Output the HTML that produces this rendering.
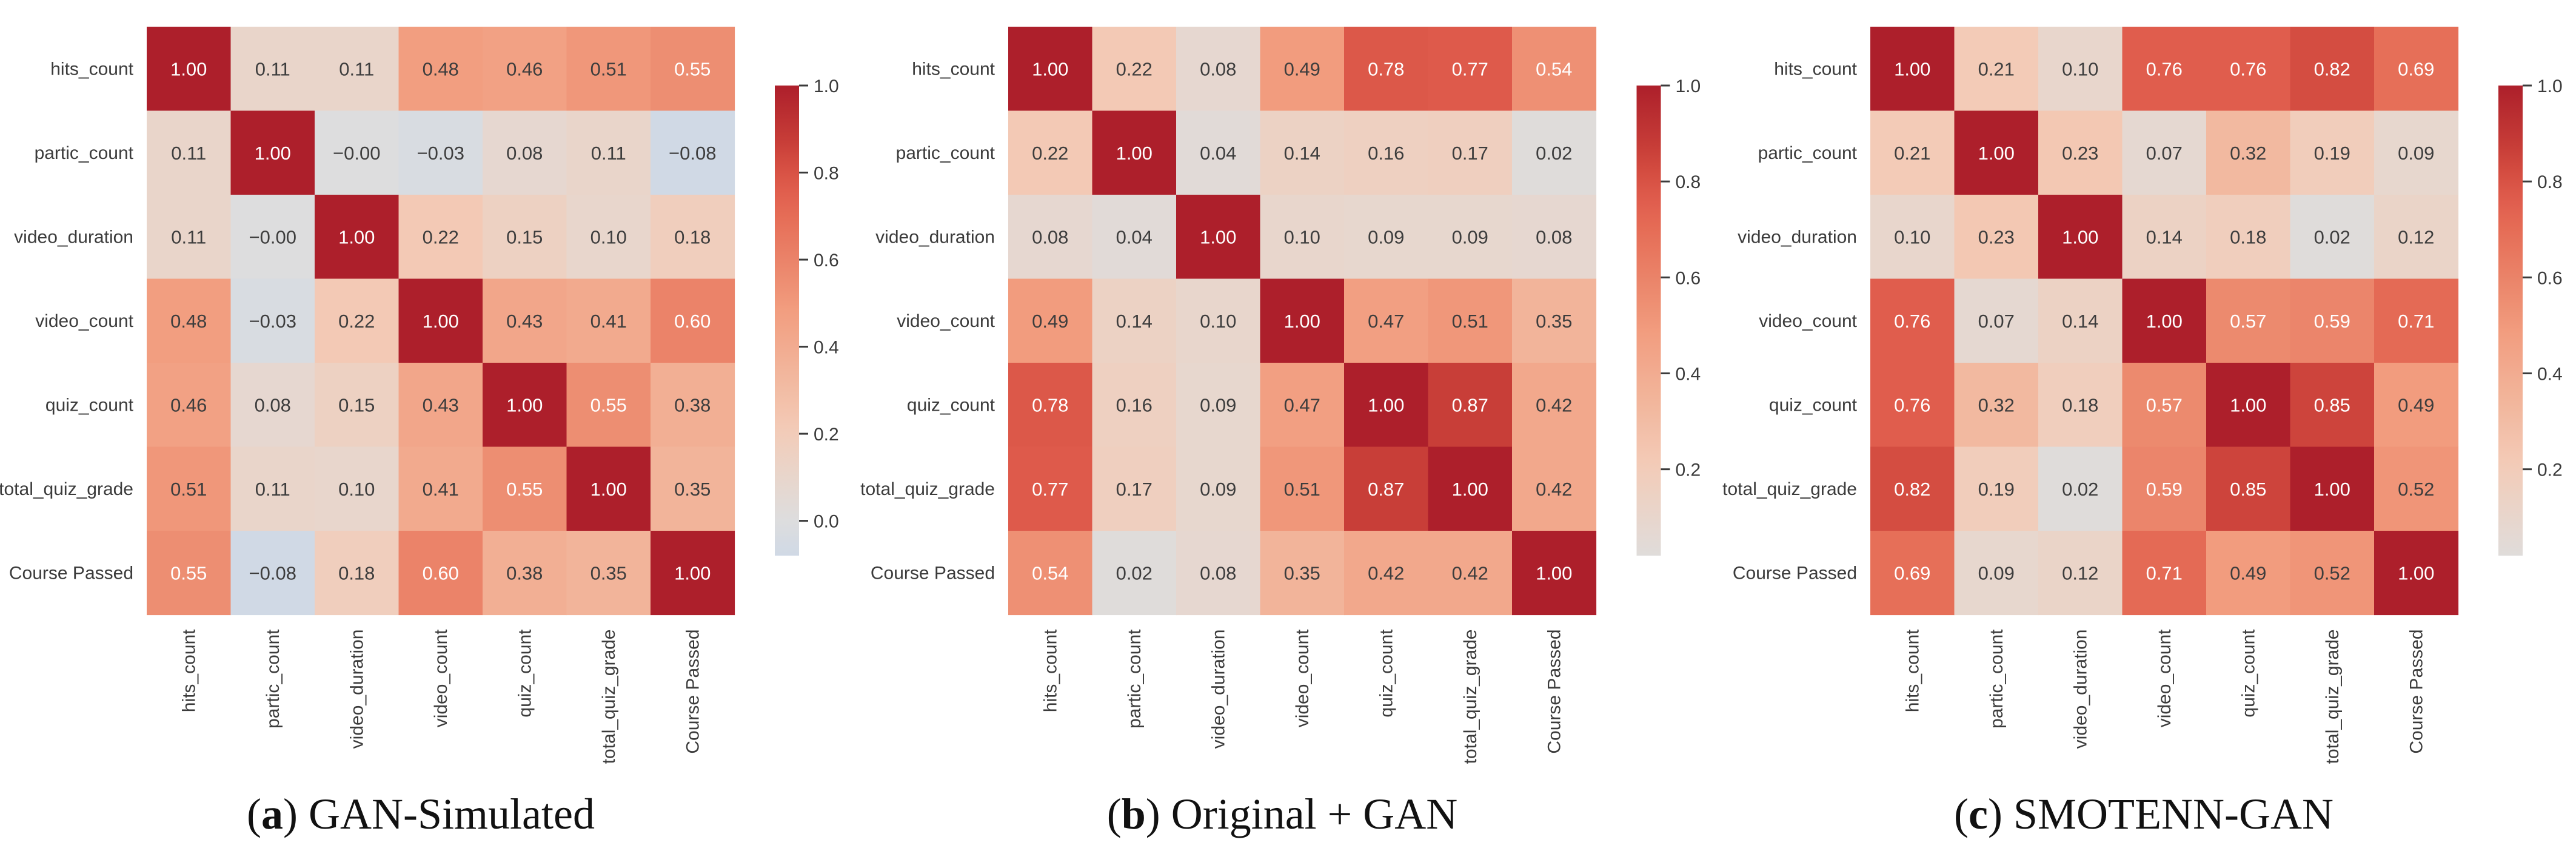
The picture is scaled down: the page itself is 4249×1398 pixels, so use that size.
<!DOCTYPE html>
<html><head><meta charset="utf-8">
<style>
html,body{margin:0;padding:0;background:#fff;}
svg{display:block;}
.cap{font-family:"Liberation Serif",serif;font-size:72px;fill:#111;}
</style></head>
<body>
<svg id="fig" width="4249" height="1398" viewBox="0 0 4249 1398" xmlns="http://www.w3.org/2000/svg"></svg>
<script>
const labels = ["hits_count","partic_count","video_duration","video_count","quiz_count","total_quiz_grade","Course Passed"];
const dataA = [
 [1.00,0.11,0.11,0.48,0.46,0.51,0.55],
 [0.11,1.00,-0.00,-0.03,0.08,0.11,-0.08],
 [0.11,-0.00,1.00,0.22,0.15,0.10,0.18],
 [0.48,-0.03,0.22,1.00,0.43,0.41,0.60],
 [0.46,0.08,0.15,0.43,1.00,0.55,0.38],
 [0.51,0.11,0.10,0.41,0.55,1.00,0.35],
 [0.55,-0.08,0.18,0.60,0.38,0.35,1.00]];
const dataB = [
 [1.00,0.22,0.08,0.49,0.78,0.77,0.54],
 [0.22,1.00,0.04,0.14,0.16,0.17,0.02],
 [0.08,0.04,1.00,0.10,0.09,0.09,0.08],
 [0.49,0.14,0.10,1.00,0.47,0.51,0.35],
 [0.78,0.16,0.09,0.47,1.00,0.87,0.42],
 [0.77,0.17,0.09,0.51,0.87,1.00,0.42],
 [0.54,0.02,0.08,0.35,0.42,0.42,1.00]];
const dataC = [
 [1.00,0.21,0.10,0.76,0.76,0.82,0.69],
 [0.21,1.00,0.23,0.07,0.32,0.19,0.09],
 [0.10,0.23,1.00,0.14,0.18,0.02,0.12],
 [0.76,0.07,0.14,1.00,0.57,0.59,0.71],
 [0.76,0.32,0.18,0.57,1.00,0.85,0.49],
 [0.82,0.19,0.02,0.59,0.85,1.00,0.52],
 [0.69,0.09,0.12,0.71,0.49,0.52,1.00]];
const ticksA = [0.0,0.2,0.4,0.6,0.8,1.0];
const ticksBC = [0.2,0.4,0.6,0.8,1.0];
const captionLetters = ["a","b","c"];
const captionTitles = ["GAN-Simulated","Original + GAN","SMOTENN-GAN"];

const cmStops = [
 [-1.0,[59,76,192]],[-0.08,[208,217,229]],[0.0,[221,221,222]],[0.10,[232,214,204]],
 [0.21,[243,203,183]],[0.35,[242,180,154]],[0.49,[242,156,126]],[0.55,[237,142,114]],
 [0.69,[230,111,88]],[0.76,[224,93,77]],[0.82,[212,77,65]],[0.87,[200,62,56]],[1.0,[173,31,43]]];
function cmap(v){
  if(v<=cmStops[0][0]) return cmStops[0][1];
  for(let i=1;i<cmStops.length;i++){
    if(v<=cmStops[i][0]){
      const [a,ca]=cmStops[i-1],[b,cb]=cmStops[i];
      const t=(v-a)/(b-a);
      return ca.map((c,k)=>Math.round(c+(cb[k]-c)*t));
    }
  }
  return cmStops[cmStops.length-1][1];
}
const rgb=c=>`rgb(${c[0]},${c[1]},${c[2]})`;
const NS="http://www.w3.org/2000/svg";
const svg=document.getElementById('fig');
function mk(tag,attrs,parent){const e=document.createElementNS(NS,tag);for(const k in attrs)e.setAttribute(k,attrs[k]);(parent||svg).appendChild(e);return e;}
function fmt(v){const s=Math.abs(v).toFixed(2);return ((v<0||Object.is(v,-0))?"\u2212":"")+s;}
function fmt1(v){return v.toFixed(1);}

const CELL=138.5, TOP=44, CB_TOP=141, CB_BOT=916, CB_W=40;
const panels=[
 {data:dataA,left:242,cbx:1278,ticks:ticksA,cx:694},
 {data:dataB,left:1663,cbx:2699.5,ticks:ticksBC,cx:2115},
 {data:dataC,left:3085,cbx:4121,ticks:ticksBC,cx:3536}];

panels.forEach((p,pi)=>{
  const g=mk('g',{});
  
  
  const flat=p.data.flat();
  const vmin=Math.min(...flat), vmax=Math.max(...flat);
  const xs=j=>p.left+j*CELL, ys=i=>TOP+i*CELL;
  p.data.forEach((row,i)=>row.forEach((v,j)=>{
    const r=mk('rect',{x:xs(j),y:ys(i),width:CELL+0.6,height:CELL+0.6,fill:rgb(cmap(v))},g);
    
    
    const t=mk('text',{x:xs(j)+CELL/2,y:ys(i)+CELL/2+11,'text-anchor':'middle','font-family':'Liberation Sans, sans-serif','font-size':31,fill:(v>=0.535?'#ffffff':'#3d3d3d')},g);
    t.textContent=fmt(v);
    
    
  }));
  labels.forEach((l,i)=>{
    const t=mk('text',{x:p.left-22,y:ys(i)+CELL/2+10,'text-anchor':'end','font-family':'Liberation Sans, sans-serif','font-size':30,fill:'#3b3b3b'},g);
    t.textContent=l;
    
    
    const cx=xs(i)+CELL/2+10, cy=TOP+7*CELL+24;
    const u=mk('text',{x:cx,y:cy,'text-anchor':'end','font-family':'Liberation Sans, sans-serif','font-size':30,fill:'#3b3b3b',transform:`rotate(-90 ${cx} ${cy})`},g);
    u.textContent=l;
    
    
  });
  const gid='grad'+pi;
  const defs=mk('defs',{},g);
  const lg=mk('linearGradient',{id:gid,x1:0,y1:1,x2:0,y2:0},defs);
  for(let k=0;k<=40;k++){
    const v=vmin+(vmax-vmin)*k/40;
    mk('stop',{offset:(k/40),'stop-color':rgb(cmap(v))},lg);
  }
  const cb=mk('rect',{x:p.cbx,y:CB_TOP,width:CB_W,height:CB_BOT-CB_TOP,fill:`url(#${gid})`},g);
  
  
  const cy=v=>CB_BOT-(v-vmin)/(vmax-vmin)*(CB_BOT-CB_TOP);
  p.ticks.forEach(tv=>{
    const y=cy(tv);
    const tk=mk('line',{x1:p.cbx+CB_W,x2:p.cbx+CB_W+15,y1:y,y2:y,stroke:'#3b3b3b','stroke-width':3},g);
    
    
    const t=mk('text',{x:p.cbx+CB_W+24,y:y+11,'font-family':'Liberation Sans, sans-serif','font-size':30,fill:'#3b3b3b'},g);
    t.textContent=fmt1(tv);
    
    
  });
  const c=mk('text',{x:p.cx,y:1366,'text-anchor':'middle',class:'cap'},g);
  
  
  const s1=mk('tspan',{},c); s1.textContent='(';
  const s2=mk('tspan',{'font-weight':'bold'},c); s2.textContent=captionLetters[pi];
  const s3=mk('tspan',{},c); s3.textContent=') '+captionTitles[pi];
});
</script>
</body></html>
